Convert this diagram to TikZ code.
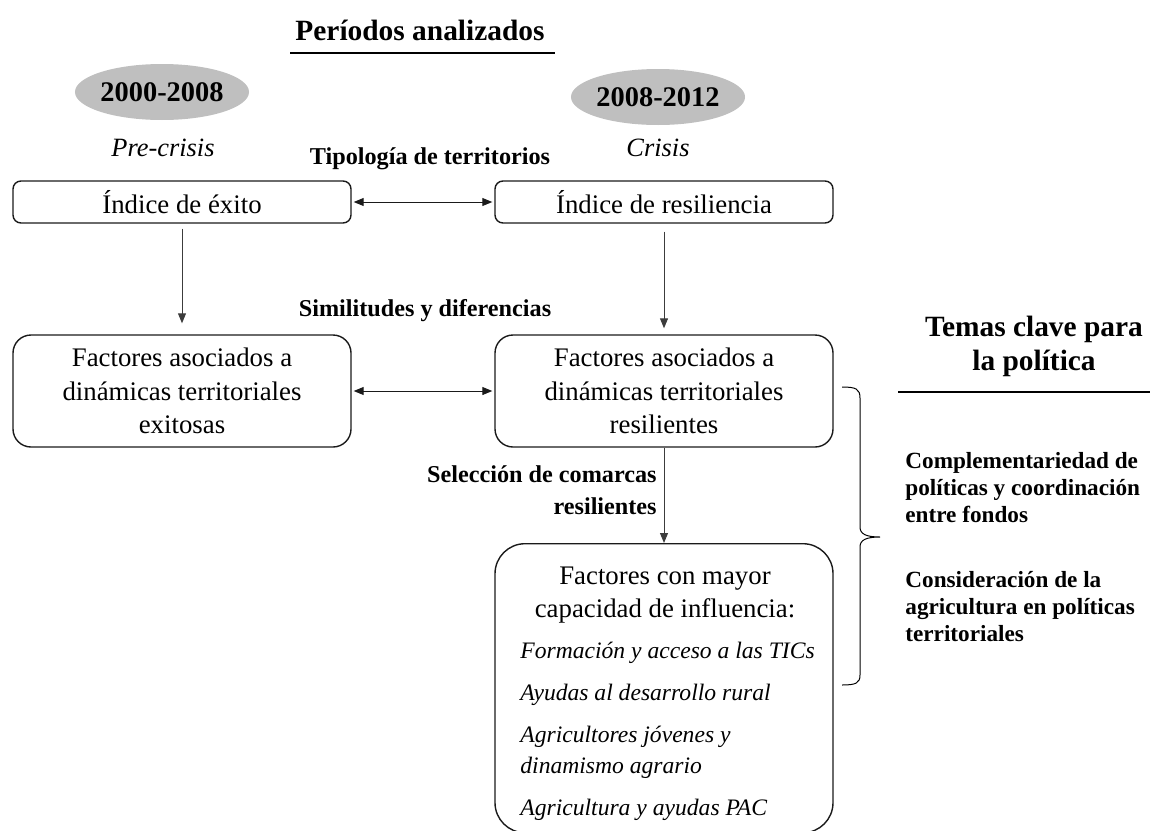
\documentclass[tikz,border=0pt]{standalone}
\usepackage{fontspec}
\setmainfont{Liberation Serif}
\usepackage{tikz}
\usetikzlibrary{arrows.meta,positioning,calc,shapes.geometric}
\definecolor{oval}{HTML}{BFBFBF}
\definecolor{line}{HTML}{1A1A1A}
\definecolor{conn}{HTML}{3C3C3C}

\begin{document}
\begin{tikzpicture}[
  x=0.5pt,y=-0.5pt,
  font=\fontsize{13.4}{16.8}\selectfont,
  >={Triangle[length=5pt,width=4pt]},
  box/.style={draw=line,line width=0.7pt,rounded corners=4pt,minimum width=169pt,minimum height=21pt,inner sep=0pt},
  tallbox/.style={box,rounded corners=9pt,minimum height=56pt,align=center},
  bigbox/.style={draw=line,line width=0.7pt,rounded corners=15pt,minimum width=169pt,minimum height=144.5pt,inner sep=0pt},
  period/.style={ellipse,fill=oval,minimum width=83.5pt,minimum height=28pt,inner sep=0pt,font=\fontsize{14.2}{16}\selectfont\bfseries},
  lbl/.style={font=\fontsize{12.1}{16}\selectfont\bfseries,inner sep=0pt},
  theme/.style={align=left,anchor=west,inner sep=0pt,font=\fontsize{11.6}{13.5}\selectfont\bfseries},
  head/.style={font=\fontsize{14.7}{17}\selectfont\bfseries,inner sep=0pt,align=center},
  link/.style={draw=conn,line width=0.5pt,->},
  both/.style={draw=line,line width=0.5pt,<->,shorten <=1pt,shorten >=1pt}
]
\useasboundingbox (0,0) rectangle (1150,830);
% --- periods ---------------------------------------------------------------
\node[head] (ptitle) at (420,30) {Períodos analizados};
\draw[line width=0.7pt] (290,53) -- (555,53);
\node[period] (p1) at (162,92) {2000-2008};
\node[period] (p2) at (658,97) {2008-2012};
\node[font=\fontsize{13.2}{16}\selectfont\itshape] (pre) at (163,148) {Pre-crisis};
\node[font=\fontsize{13.2}{16}\selectfont\itshape] (cri) at (658,148) {Crisis};
% --- indices and factors -----------------------------------------------------
\node[lbl] (tipo) at (430,159) {Tipología de territorios};
\node[box] (exito) at (182,202) {Índice de éxito};
\node[box] (resil) at (664,202) {Índice de resiliencia};
\draw[both] (exito.east) -- (resil.west);
\node[lbl] (simil) at (425,311) {Similitudes y diferencias};
\node[tallbox] (fexit) at (182,391) {Factores asociados a\\dinámicas territoriales\\exitosas};
\node[tallbox] (fres) at (664,391) {Factores asociados a\\dinámicas territoriales\\resilientes};
\draw[both] (fexit.east) -- (fres.west);
\draw[link,shorten <=2.5pt,shorten >=5.5pt] (exito.south) -- (fexit.north);
\draw[link,shorten <=4pt,shorten >=3pt] (resil.south) -- (fres.north);
% --- selected counties ---------------------------------------------------------
\node[lbl,align=right,anchor=east] (selec) at (657,490) {Selección de comarcas\\resilientes};
\node[bigbox,anchor=north] (infl) at (664,543) {};
\draw[link] (fres.south) -- (infl.north);
\node[align=center] (ihead) at (665,595) {Factores con mayor\\capacidad de influencia:};
\node[align=left,anchor=west,inner sep=0pt,font=\fontsize{11.8}{15.5}\selectfont\itshape] (ilist) at (520,731)
  {Formación y acceso a las TICs\\[5.5pt]Ayudas al desarrollo rural\\[5.5pt]Agricultores jóvenes y\\dinamismo agrario\\[5.5pt]Agricultura y ayudas PAC};
% --- policy themes -------------------------------------------------------------
\draw[line width=0.5pt] (842,387) .. controls (856,387) and (860,389) .. (860,398) -- (860,527)
  .. controls (860,534) and (866,537) .. (880,537)
  .. controls (866,537) and (860,540) .. (860,547) -- (860,675)
  .. controls (860,683) and (856,685) .. (842,685);
\node[head] (temas) at (1034,346) {Temas clave para\\la política};
\draw[line width=0.7pt] (898,392) -- (1150,392);
\node[theme] (compl) at (905,488) {Complementariedad de\\políticas y coordinación\\entre fondos};
\node[theme] (consid) at (905,607) {Consideración de la\\agricultura en políticas\\territoriales};
\end{tikzpicture}
\end{document}
